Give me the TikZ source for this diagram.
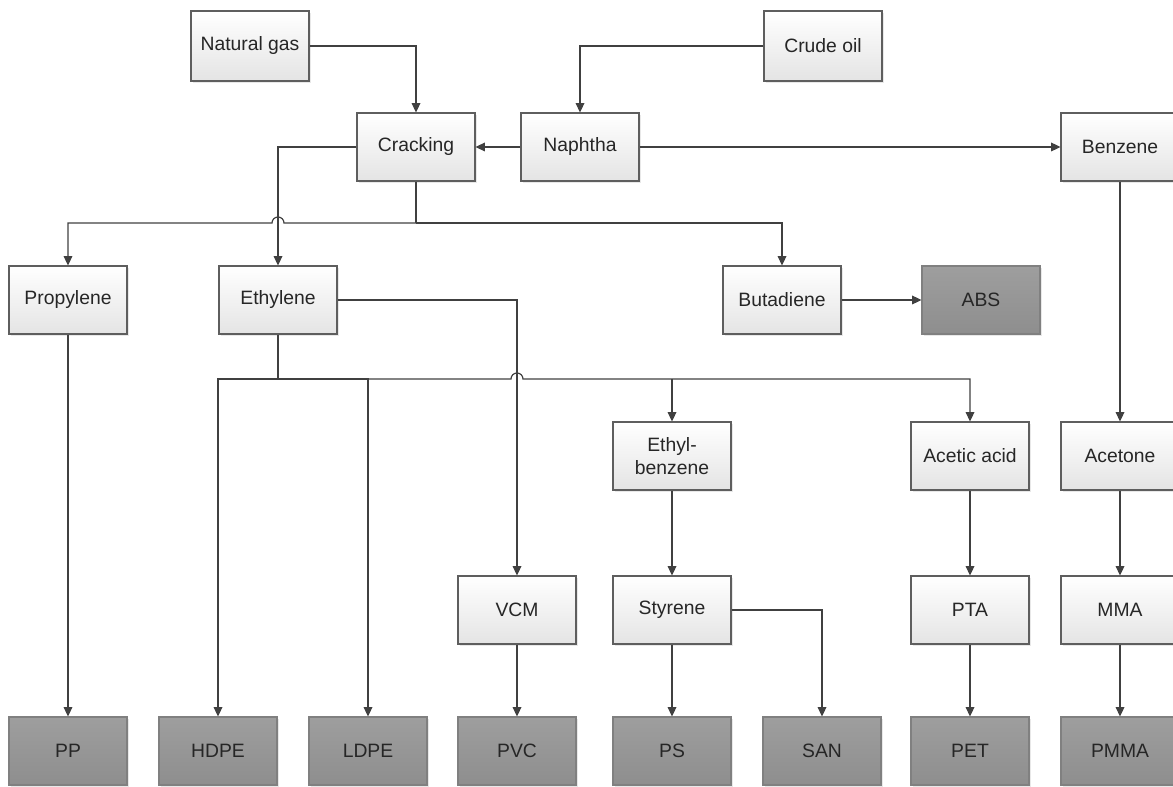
\documentclass[tikz,border=0pt]{standalone}
\usepackage{fontspec}
\setmainfont{Liberation Sans}
\usetikzlibrary{arrows.meta,shadows}
\definecolor{linegray}{HTML}{404040}
\definecolor{boxedge}{HTML}{5E5E5E}
\definecolor{lightbot}{HTML}{E4E4E4}
\definecolor{darktop}{HTML}{9E9E9E}
\definecolor{darkbot}{HTML}{8E8E8E}
\definecolor{darkedge}{HTML}{808080}
\definecolor{textgray}{HTML}{262626}
\begin{document}
\begin{tikzpicture}[x=0.75pt,y=-0.75pt,
  chem/.style={draw=boxedge, line width=0.8pt, top color=white, bottom color=lightbot,
    minimum width=88.5pt, minimum height=51pt, inner sep=2pt, align=center,
    font=\fontsize{14.5}{17}\selectfont, text=textgray,
    drop shadow={shadow xshift=1.2pt, shadow yshift=-1.2pt, opacity=0.18}},
  polymer/.style={chem, top color=darktop, bottom color=darkbot, draw=darkedge},
  feed/.style={chem, minimum height=52.5pt},
  link/.style={draw=linegray, line width=0.9pt},
  flow/.style={link, -{Triangle[length=7pt,width=6.5pt]}}]
	\useasboundingbox (0,0) rectangle (1173,787);
	\clip (0,0) rectangle (1173,787);
	\node[feed] (gas) at (250,46) {Natural gas};
	\node[feed] (crude) at (823,46) {Crude oil};
	\node[chem] (cracking) at (416,147) {Cracking};
	\node[chem] (naphtha) at (580,147) {Naphtha};
	\node[chem] (benzene) at (1120,147) {Benzene};
	\node[chem] (propylene) at (68,300) {Propylene};
	\node[chem] (ethylene) at (278,300) {Ethylene};
	\node[chem] (butadiene) at (782,300) {Butadiene};
	\node[polymer] (abs) at (981,300) {ABS};
	\node[chem] (ethylbenzene) at (672,456) {Ethyl-\\benzene};
	\node[chem] (acetic) at (970,456) {Acetic acid};
	\node[chem] (acetone) at (1120,456) {Acetone};
	\node[chem] (vcm) at (517,610) {VCM};
	\node[chem] (styrene) at (672,610) {Styrene};
	\node[chem] (pta) at (970,610) {PTA};
	\node[chem] (mma) at (1120,610) {MMA};
	\node[polymer] (pp) at (68,751) {PP};
	\node[polymer] (hdpe) at (218,751) {HDPE};
	\node[polymer] (ldpe) at (368,751) {LDPE};
	\node[polymer] (pvc) at (517,751) {PVC};
	\node[polymer] (ps) at (672,751) {PS};
	\node[polymer] (san) at (822,751) {SAN};
	\node[polymer] (pet) at (970,751) {PET};
	\node[polymer] (pmma) at (1120,751) {PMMA};
	\coordinate (crackfork) at (416,223);
	\coordinate (ethfork) at (278,379);
	\draw[flow] (gas.east) -| (cracking.north);
	\draw[flow] (crude.west) -| (naphtha.north);
	\draw[flow] (naphtha.west) -- (cracking.east);
	\draw[flow] (naphtha.east) -- (benzene.west);
	\draw[flow] (cracking.west) -| (ethylene.north);
	\draw[link] (cracking.south) -- (crackfork);
	\draw[flow] (crackfork) -- (284,223) arc[start angle=0, end angle=180, radius=4.5pt] -- (68,223) -- (propylene.north);
	\draw[flow] (crackfork) -| (butadiene.north);
	\draw[flow] (butadiene.east) -- (abs.west);
	\draw[flow] (benzene.south) -- (acetone.north);
	\draw[flow] (acetone.south) -- (mma.north);
	\draw[flow] (mma.south) -- (pmma.north);
	\draw[flow] (propylene.south) -- (pp.north);
	\draw[flow] (ethylene.east) -| (vcm.north);
	\draw[link] (ethylene.south) -- (ethfork);
	\draw[flow] (ethfork) -| (hdpe.north);
	\draw[flow] (ethfork) -| (ldpe.north);
	\draw[flow] (ethfork) -- (511,379) arc[start angle=180, end angle=0, radius=4.5pt] -- (970,379) -- (acetic.north);
	\draw[flow] (672,379) -- (ethylbenzene.north);
	\draw[flow] (vcm.south) -- (pvc.north);
	\draw[flow] (ethylbenzene.south) -- (styrene.north);
	\draw[flow] (styrene.south) -- (ps.north);
	\draw[flow] (styrene.east) -| (san.north);
	\draw[flow] (acetic.south) -- (pta.north);
	\draw[flow] (pta.south) -- (pet.north);
\end{tikzpicture}
\end{document}
